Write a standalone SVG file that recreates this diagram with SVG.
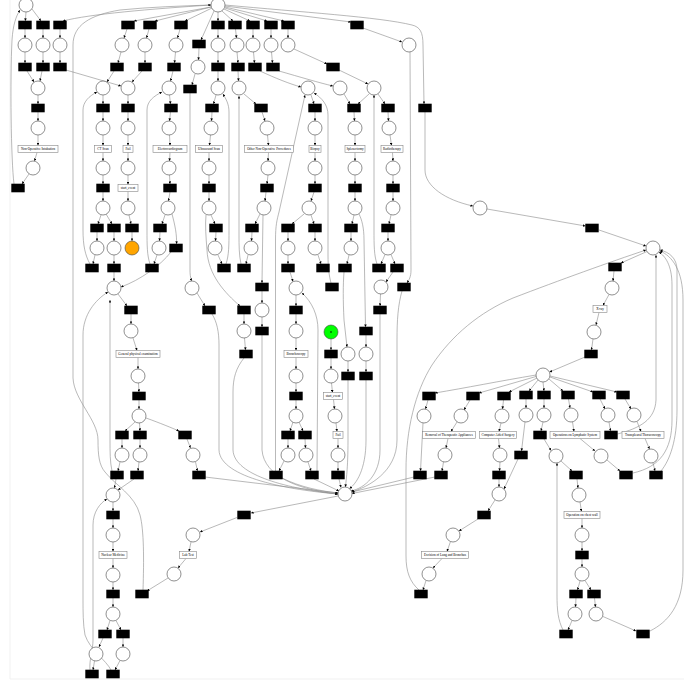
<svg xmlns="http://www.w3.org/2000/svg" width="684" height="683" viewBox="0 0 684 683">
<style>
.p{fill:#fff;stroke:#444;stroke-width:0.6}
.t{fill:#000}
.l{fill:#fff;stroke:#888;stroke-width:0.6}
.e path{fill:none;stroke:#8a8a8a;stroke-width:0.6;marker-end:url(#a)}
text{font-family:"Liberation Serif",serif;font-size:3.3px;text-anchor:middle;dominant-baseline:central;fill:#000}
</style>
<defs>
<marker id="a" viewBox="0 0 10 10" refX="10" refY="5" markerWidth="2.6" markerHeight="2.6" markerUnits="userSpaceOnUse" orient="auto"><path d="M0,0L10,5L0,10z" fill="#000"/></marker>
<circle id="P" class="p" r="7"/>
<rect id="T" class="t" x="-6.7" y="-4.3" width="13.4" height="8.6"/>
</defs>
<rect width="684" height="683" fill="#fff"/>
<path d="M10,0V679H684" fill="none" stroke="#eee" stroke-width="0.8"/>
<g id="connectors" class="e">
<path d="M26,12L25.3,21"/><path d="M32,9L41,21"/><path d="M211,5C150,9 90,14 63,21"/>
<path d="M25,29L25,38"/><path d="M43,29L43,38"/><path d="M60,29L60,38"/>
<path d="M25,52L25,63"/><path d="M43,52L43,63"/><path d="M60,52L60,63"/>
<path d="M27,71L34,82"/><path d="M42,71L40,81"/><path d="M66,70L121,86"/>
<path d="M38,95L38,104"/><path d="M38,112L38,121"/><path d="M38,135L38,145.5"/><path d="M37,152.5L34.5,161"/><path d="M29,174L22,184"/>
<path d="M14,184C11,160 10,80 12,40C13,25 16,16 20,10"/>
<path d="M211,7L134,21"/><path d="M211,7L155,21"/><path d="M212,8L185,21"/><path d="M214,11L201,40"/><path d="M218,12L218,21"/><path d="M222,11L233,21"/><path d="M224,9L250,21"/><path d="M225,8L267,21"/><path d="M225,7L284,21"/><path d="M225,6L351,22"/>
<path d="M225,5C300,12 380,17 412,25C420,27 423,32 423,45L424,104"/>
<path d="M127,29L124,38"/><path d="M149,29L146.5,38"/><path d="M121,52L118,63"/><path d="M145,52L145,63"/>
<path d="M114,71L107,82"/><path d="M142,71L132,82"/>
<path d="M103,95L103,104"/><path d="M103,112L103,121"/><path d="M103,135L103,145.5"/><path d="M103,152.5L103,161"/><path d="M103,175L103,184"/><path d="M103,192L103,201"/>
<path d="M101,215L98,224"/><path d="M106,214L112,224"/>
<path d="M128,95L128,104"/><path d="M128,112L128,121"/><path d="M128,135L128,145.5"/><path d="M128,152.5L128,161"/><path d="M128,175L128,184.5"/><path d="M128,191.5L128,201"/><path d="M129,215L131,224"/>
<path d="M97,232L97,241"/><path d="M114,232L114,241"/><path d="M132,232L132,241"/>
<path d="M95,255L93,264"/><path d="M114,255L114,264"/><path d="M114,272L114,281"/>
<path d="M90,264C85,255 83,245 83,230L83,110C83,102 89,96 97,92"/>
<path d="M180,29L177.5,38"/><path d="M175.5,52L174.5,63"/><path d="M173,71L170.5,81"/><path d="M169.5,95L170.5,104"/><path d="M170.5,112L169.5,121"/><path d="M169.5,135L170,145.5"/><path d="M170,152.5L169.5,161"/><path d="M169.5,175L170,184"/><path d="M170,192L168.5,201"/>
<path d="M165,215L162,224"/><path d="M172,214C175,225 177,235 176.5,244"/><path d="M160,232L159.5,241"/><path d="M157,255L154,264"/>
<path d="M150,264C147,255 147,245 147,230L147,110C147,101 154,96 162,92"/>
<path d="M171,252C160,266 140,280 121,287"/>
<path d="M199,48L198.5,60"/><path d="M195,74L192,85"/><path d="M190,93L190,270C190,276 191,279 191.5,281"/><path d="M197,293L205,306"/>
<path d="M212,314C217,322 219,332 219,345L219,450C220,478 290,490 338,494"/>
<path d="M218,29L218,38"/><path d="M218,52L218,63"/><path d="M218,71L218,81"/><path d="M216,95L213.5,104"/><path d="M212,112L211.5,121"/><path d="M210.5,135L209.5,145.5"/><path d="M209,152.5L209,161"/><path d="M209,175L209,184"/><path d="M209,192L209,201"/>
<path d="M211,215L215,224"/><path d="M216,232L215.5,241"/><path d="M218,255L222,264"/>
<path d="M226,264C229,255 229,245 229,230L229,112C229,104 226,99 223,94"/>
<path d="M206,215C205,225 206,238 207,250C208,275 225,293 240,306"/>
<path d="M244,314L244,324"/><path d="M244.5,338L245.5,350"/>
<path d="M244,358C236,368 233,378 233,392L233,450C234,476 290,489 338,494"/>
<path d="M235.5,29L236.5,38"/><path d="M237,52L238,63"/><path d="M238,71L238.5,81"/><path d="M244,94L256,104"/><path d="M262,112L265,121"/><path d="M267.5,135L268.5,145.5"/><path d="M268.5,152.5L268,161"/><path d="M268,175L267,184"/><path d="M266,192L265,201"/>
<path d="M260,214L255,224"/><path d="M263,215L262,283"/><path d="M252,232L251.5,241"/><path d="M248,255L246,264"/>
<path d="M241,264C239,255 239,245 239,235L239,96"/>
<path d="M262,291L262,303"/><path d="M262,317L262,327"/><path d="M262,335L262,450C264,477 300,490 338,494"/>
<path d="M253,29L253,38"/><path d="M253.5,52L254.5,63"/><path d="M260,71C275,78 290,84 301,87"/><path d="M311,95L314,104"/><path d="M315,112L315,121"/><path d="M315,135L315,145.5"/><path d="M315,152.5L315,161"/><path d="M315,175L315,184"/><path d="M314,192L311,201"/>
<path d="M304,214L292,224"/><path d="M311,215L314,224"/><path d="M288,232L288,241"/><path d="M288,255L288,264"/><path d="M290,272L293,281.5"/><path d="M315,232L315,241"/><path d="M318,255L321,264"/>
<path d="M331,283C329,275 328,268 328,255L328,115C328,105 322,98 314,93"/>
<path d="M275.5,471L275.5,240C275.5,225 277,220 279,212L305,95"/>
<path d="M296,295L296,306"/><path d="M296,314L296,324"/><path d="M296,338L296,350.5"/><path d="M296,357.5L296,369"/><path d="M296,383L296,392"/><path d="M296,400L296,409"/>
<path d="M293,422L290,431"/><path d="M299,422L303,431"/><path d="M288,439L288,448"/><path d="M305,439L305.5,448"/><path d="M284,461L279,471"/><path d="M308,462L311,471"/>
<path d="M317,471L318,330C318,315 312,302 302,293"/>
<path d="M282,478C300,487 320,491 338,493"/><path d="M314,479L339,491"/>
<path d="M331,339L331,350"/><path d="M331,358L331,369"/><path d="M331.5,383L332.5,392.5"/><path d="M333.5,399.5L334.5,409"/><path d="M336,423L337,431.5"/><path d="M338,438.5L338,448"/><path d="M338,462L338,471"/><path d="M339,479L341,487.5"/>
<path d="M271,29L271,38"/><path d="M271.5,52L272.5,63"/><path d="M279,71C300,77 320,83 333,86"/><path d="M288,29L288,38"/><path d="M294,49L327,64"/><path d="M339,70L368,84"/>
<path d="M344,94L350,104"/><path d="M369,94L358,104"/><path d="M378,94L385,104"/>
<path d="M354,112L354.5,121"/><path d="M355,135L355,145.5"/><path d="M355,152.5L355,161"/><path d="M355,175L355,184"/><path d="M355,192L355,201"/>
<path d="M354,215L352,224"/><path d="M359,214C362,220 364,228 364,240L365.5,327"/><path d="M351,232L351,241"/><path d="M349,255L347,264"/>
<path d="M344,272C343,285 343,300 344,320L347,347"/>
<path d="M388,112L388.5,121"/><path d="M390,135L391.5,145.5"/><path d="M392.5,152.5L393,161"/><path d="M393,175L393,184"/><path d="M393,192L393,201"/>
<path d="M391,215L389,224"/><path d="M388,232L388,241"/><path d="M385,254.5L381,264"/><path d="M391,254.5L395,264"/>
<path d="M377,264C374,255 374,245 374,230L374,95"/>
<path d="M393,272L386,282"/><path d="M380.5,294L380,306"/><path d="M380,314L380,450C380,475 365,488 351,491"/>
<path d="M366,335L366,347"/><path d="M366,361L366,372"/><path d="M348,361L348,372"/>
<path d="M348,380L348,440C348,470 346,480 345.5,487"/><path d="M366,380L366,440C366,470 356,484 349.5,488.5"/>
<path d="M410,52L411,270C411,277 409,280 407,283"/>
<path d="M402,291C398,305 397,320 397,340L397,440C397,472 368,487 351.5,492"/>
<path d="M363,28L402,42"/>
<path d="M425,112L425,170C425,186 445,200 473,206"/><path d="M487,209L585.5,226"/><path d="M599,230L646,246"/>
<path d="M647,251.5L621,263"/><path d="M614,271L613,281"/><path d="M609,294.5L603,305.5"/><path d="M599,312.5L596,325"/><path d="M593,339L591.5,350"/><path d="M585,357L549.5,372"/>
<path d="M536,375C500,381 465,388 435,393"/><path d="M536,376.5L479,393"/><path d="M537,378L509,392"/><path d="M538,380L529,391"/><path d="M543,382L544,391"/><path d="M549,379L563,391"/><path d="M550,377L593,392"/><path d="M550,376L617,392"/>
<path d="M428,400L425.5,409"/><path d="M423,423L420.5,471"/><path d="M414,477L352,492"/>
<path d="M470,400L464,410"/><path d="M457,422L451,431.5"/><path d="M448,438.5L446,448"/><path d="M443.5,462L442,471"/><path d="M435,477L352,493.5"/>
<path d="M503.5,400L502.5,409"/><path d="M501,423L499,431.5"/><path d="M498.5,438.5L499.5,448"/><path d="M500,462L499.5,471"/><path d="M499,479L499,487"/>
<path d="M526,399L526,408"/><path d="M525,422L521.5,451"/><path d="M518,459L504,489"/>
<path d="M495,500L488,511"/><path d="M478,519L459,531"/><path d="M450.5,541.5L447,551.5"/><path d="M442,558.5L433,568"/><path d="M426,580.5L423,590"/>
<path d="M419,590C410,582 406,572 406,556L406,470C406,430 415,392 432,365C452,335 480,312 513,298C560,280 610,262 646,250"/>
<path d="M544,399L544,408"/><path d="M543,422L541,431"/><path d="M544,439L551,450.5"/><path d="M561,461L572,471"/><path d="M577,479L578,488"/><path d="M580,502L581.5,511.5"/><path d="M582,518.5L582,528"/><path d="M582,542L582,551"/><path d="M582,559L582,567"/>
<path d="M580,581L577.5,590"/><path d="M585,580.5L591,590"/><path d="M576,598L575.5,607"/><path d="M594.5,598L595.5,607"/><path d="M572,620.5L568,630"/><path d="M603,616.5L636,631"/>
<path d="M563,630C558,620 557,610 557,595L557,463"/>
<path d="M650,631C668,622 683,605 683,570L683,300C683,270 672,256 660,251"/>
<path d="M568.5,399L570,408"/><path d="M572.5,422L574,431.5"/><path d="M580,438.5L595,451"/><path d="M607,460L620,471"/>
<path d="M633,473C660,467 672,450 672,420L672,285C672,265 665,256 659,252"/>
<path d="M600,399L605,409"/><path d="M609,422L610.5,431"/><path d="M617.5,434C640,428 655,420 656,400L656,255"/>
<path d="M625,399L631,409"/><path d="M637,421.5L641,431.5"/><path d="M645,438.5L649.5,449"/><path d="M653,463L655,471"/>
<path d="M661,471C670,460 677,440 677,410L677,270C677,258 669,252 660,250"/>
<path d="M118,294L127,306"/><path d="M131,314L131,324"/><path d="M133,338L137,350.5"/><path d="M138,357.5L138,369"/><path d="M138.5,383L139,392"/><path d="M139,400L139,409"/>
<path d="M135,422L125,431"/><path d="M139.5,423L140,431"/><path d="M146,418C160,423 172,428 179,431"/>
<path d="M122,439L122,448"/><path d="M140,439L140,448"/><path d="M120,462L118,471"/><path d="M139,462L138,471"/><path d="M134,479L118,490"/><path d="M116,479L114.5,488"/>
<path d="M112,471C110,462 110,452 110,440L110,300"/>
<path d="M187,439L190.5,448"/><path d="M195.5,462L197.5,471"/><path d="M205,477L338,493"/>
<path d="M113,502L113,511"/><path d="M113,519L113,528"/><path d="M113,542L113,551.5"/><path d="M113,558.5L113,568"/><path d="M113,582L113,590"/><path d="M113,598L113,607"/>
<path d="M110,620.5L107,630"/><path d="M116,620.5L121,630"/><path d="M103,638L99,647"/><path d="M123,638L123,647"/><path d="M94.5,661L93,670"/><path d="M120,660.5L115,670"/>
<path d="M90,670C89,660 93,650 93,640L93,525C93,512 100,503 107,499"/>
<path d="M111,670C106,660 90,650 85,635C83,625 83,610 83,600L83,335C83,315 95,300 108,292"/>
<path d="M143,590C144,560 144,530 140,515C135,495 115,485 105,472C99,465 98,455 98,440C98,420 74,400 73,378L73,45C73,25 90,15 120,10C150,7 180,6 211,5"/>
<path d="M168,578L147,591"/>
<path d="M338,496L251,513"/><path d="M237,517.5L200,532"/><path d="M191,542L189,551.5"/><path d="M186,558.5L178,568"/>
</g>
<g id="places">
<g id="p01"><use href="#P" x="26" y="5"/></g><g id="p02"><use href="#P" x="218" y="5"/></g>
<g id="p03"><use href="#P" x="25" y="45"/></g><g id="p04"><use href="#P" x="43" y="45"/></g><g id="p05"><use href="#P" x="60" y="45"/></g><g id="p06"><use href="#P" x="122" y="45"/></g><g id="p07"><use href="#P" x="145" y="45"/></g><g id="p08"><use href="#P" x="176" y="45"/></g><g id="p09"><use href="#P" x="218" y="45"/></g><g id="p10"><use href="#P" x="237" y="45"/></g><g id="p11"><use href="#P" x="253" y="45"/></g><g id="p12"><use href="#P" x="271" y="45"/></g><g id="p13"><use href="#P" x="288" y="45"/></g><g id="p14"><use href="#P" x="409" y="45"/></g>
<g id="p15"><use href="#P" x="198" y="67"/></g>
<g id="p16"><use href="#P" x="38" y="88"/></g><g id="p17"><use href="#P" x="103" y="88"/></g><g id="p18"><use href="#P" x="128" y="88"/></g><g id="p19"><use href="#P" x="169" y="88"/></g><g id="p20"><use href="#P" x="218" y="88"/></g><g id="p21"><use href="#P" x="239" y="88"/></g><g id="p22"><use href="#P" x="308" y="88"/></g><g id="p23"><use href="#P" x="340" y="88"/></g><g id="p24"><use href="#P" x="374" y="88"/></g>
<g id="p25"><use href="#P" x="38" y="128"/></g><g id="p26"><use href="#P" x="103" y="128"/></g><g id="p27"><use href="#P" x="128" y="128"/></g><g id="p28"><use href="#P" x="169" y="128"/></g><g id="p29"><use href="#P" x="211" y="128"/></g><g id="p30"><use href="#P" x="267" y="128"/></g><g id="p31"><use href="#P" x="315" y="128"/></g><g id="p32"><use href="#P" x="355" y="128"/></g><g id="p33"><use href="#P" x="389" y="128"/></g>
<g id="p34"><use href="#P" x="33" y="168"/></g><g id="p35"><use href="#P" x="103" y="168"/></g><g id="p36"><use href="#P" x="128" y="168"/></g><g id="p37"><use href="#P" x="169" y="168"/></g><g id="p38"><use href="#P" x="209" y="168"/></g><g id="p39"><use href="#P" x="268" y="168"/></g><g id="p40"><use href="#P" x="315" y="168"/></g><g id="p41"><use href="#P" x="355" y="168"/></g><g id="p42"><use href="#P" x="393" y="168"/></g>
<g id="p43"><use href="#P" x="103" y="208"/></g><g id="p44"><use href="#P" x="128" y="208"/></g><g id="p45"><use href="#P" x="168" y="208"/></g><g id="p46"><use href="#P" x="209" y="208"/></g><g id="p47"><use href="#P" x="264" y="208"/></g><g id="p48"><use href="#P" x="309" y="208"/></g><g id="p49"><use href="#P" x="355" y="208"/></g><g id="p50"><use href="#P" x="393" y="208"/></g><g id="p51"><use href="#P" x="480" y="208"/></g>
<g id="p52"><use href="#P" x="97" y="248"/></g><g id="p53"><use href="#P" x="114" y="248"/></g><g id="p54"><circle cx="132" cy="248" r="7" fill="#FFA500" stroke="#444" stroke-width="0.6"/></g><g id="p55"><use href="#P" x="159" y="248"/></g><g id="p56"><use href="#P" x="215" y="248"/></g><g id="p57"><use href="#P" x="251" y="248"/></g><g id="p58"><use href="#P" x="288" y="248"/></g><g id="p59"><use href="#P" x="315" y="248"/></g><g id="p60"><use href="#P" x="351" y="248"/></g><g id="p61"><use href="#P" x="388" y="248"/></g><g id="p62"><use href="#P" x="653" y="248"/></g>
<g id="p63"><use href="#P" x="114" y="288"/></g><g id="p64"><use href="#P" x="192" y="288"/></g><g id="p65"><use href="#P" x="296" y="288"/></g><g id="p66"><use href="#P" x="381" y="287"/></g><g id="p67"><use href="#P" x="612" y="288"/></g>
<g id="p68"><use href="#P" x="262" y="310"/></g>
<g id="p69"><use href="#P" x="131" y="331"/></g><g id="p70"><use href="#P" x="244" y="331"/></g><g id="p71"><use href="#P" x="296" y="331"/></g><g id="p72"><circle cx="331" cy="332" r="7" fill="#00FF00" stroke="#444" stroke-width="0.6"/><circle cx="331" cy="332" r="0.8" fill="#000"/></g><g id="p73"><use href="#P" x="594" y="332"/></g>
<g id="p74"><use href="#P" x="348" y="354"/></g><g id="p75"><use href="#P" x="366" y="354"/></g>
<g id="p76"><use href="#P" x="138" y="376"/></g><g id="p77"><use href="#P" x="296" y="376"/></g><g id="p78"><use href="#P" x="331" y="376"/></g><g id="p79"><use href="#P" x="543" y="375"/></g>
<g id="p80"><use href="#P" x="139" y="416"/></g><g id="p81"><use href="#P" x="296" y="416"/></g><g id="p82"><use href="#P" x="335" y="416"/></g><g id="p83"><use href="#P" x="424" y="416"/></g><g id="p84"><use href="#P" x="461" y="416"/></g><g id="p85"><use href="#P" x="502" y="416"/></g><g id="p86"><use href="#P" x="526" y="415"/></g><g id="p87"><use href="#P" x="544" y="415"/></g><g id="p88"><use href="#P" x="571" y="415"/></g><g id="p89"><use href="#P" x="608" y="415"/></g><g id="p90"><use href="#P" x="634" y="415"/></g>
<g id="p91"><use href="#P" x="122" y="455"/></g><g id="p92"><use href="#P" x="140" y="455"/></g><g id="p93"><use href="#P" x="193" y="455"/></g><g id="p94"><use href="#P" x="288" y="455"/></g><g id="p95"><use href="#P" x="306" y="455"/></g><g id="p96"><use href="#P" x="338" y="455"/></g><g id="p97"><use href="#P" x="445" y="455"/></g><g id="p98"><use href="#P" x="500" y="455"/></g><g id="p99"><use href="#P" x="556" y="456"/></g><g id="p100"><use href="#P" x="601" y="456"/></g><g id="p101"><use href="#P" x="651" y="456"/></g>
<g id="p102"><use href="#P" x="345" y="494"/></g><g id="p103"><use href="#P" x="113" y="495"/></g><g id="p104"><use href="#P" x="499" y="494"/></g><g id="p105"><use href="#P" x="579" y="495"/></g>
<g id="p106"><use href="#P" x="113" y="535"/></g><g id="p107"><use href="#P" x="193" y="535"/></g><g id="p108"><use href="#P" x="453" y="535"/></g><g id="p109"><use href="#P" x="582" y="535"/></g>
<g id="p110"><use href="#P" x="113" y="575"/></g><g id="p111"><use href="#P" x="174" y="574"/></g><g id="p112"><use href="#P" x="429" y="574"/></g><g id="p113"><use href="#P" x="582" y="574"/></g>
<g id="p114"><use href="#P" x="113" y="614"/></g><g id="p115"><use href="#P" x="575" y="614"/></g><g id="p116"><use href="#P" x="596" y="614"/></g>
<g id="p117"><use href="#P" x="96" y="654"/></g><g id="p118"><use href="#P" x="123" y="654"/></g>
</g>
<g id="transitions">
<g id="t01"><use href="#T" x="25" y="25"/></g><g id="t02"><use href="#T" x="43" y="25"/></g><g id="t03"><use href="#T" x="60" y="25"/></g><g id="t04"><use href="#T" x="128" y="25"/></g><g id="t05"><use href="#T" x="150" y="25"/></g><g id="t06"><use href="#T" x="181" y="25"/></g><g id="t07"><use href="#T" x="218" y="25"/></g><g id="t08"><use href="#T" x="235" y="25"/></g><g id="t09"><use href="#T" x="253" y="25"/></g><g id="t10"><use href="#T" x="271" y="25"/></g><g id="t11"><use href="#T" x="288" y="25"/></g><g id="t12"><use href="#T" x="357" y="25"/></g>
<g id="t13"><use href="#T" x="199" y="44"/></g>
<g id="t14"><use href="#T" x="25" y="67"/></g><g id="t15"><use href="#T" x="43" y="67"/></g><g id="t16"><use href="#T" x="60" y="67"/></g><g id="t17"><use href="#T" x="117" y="67"/></g><g id="t18"><use href="#T" x="145" y="67"/></g><g id="t19"><use href="#T" x="174" y="67"/></g><g id="t20"><use href="#T" x="218" y="67"/></g><g id="t21"><use href="#T" x="238" y="67"/></g><g id="t22"><use href="#T" x="255" y="67"/></g><g id="t23"><use href="#T" x="273" y="67"/></g><g id="t24"><use href="#T" x="333" y="67"/></g>
<g id="t25"><use href="#T" x="190" y="89"/></g>
<g id="t26"><use href="#T" x="38" y="108"/></g><g id="t27"><use href="#T" x="103" y="108"/></g><g id="t28"><use href="#T" x="128" y="108"/></g><g id="t29"><use href="#T" x="171" y="108"/></g><g id="t30"><use href="#T" x="212" y="108"/></g><g id="t31"><use href="#T" x="261" y="108"/></g><g id="t32"><use href="#T" x="315" y="108"/></g><g id="t33"><use href="#T" x="354" y="108"/></g><g id="t34"><use href="#T" x="388" y="108"/></g><g id="t35"><use href="#T" x="425" y="108"/></g>
<g id="t36"><use href="#T" x="18" y="188"/></g><g id="t37"><use href="#T" x="103" y="188"/></g><g id="t38"><use href="#T" x="170" y="188"/></g><g id="t39"><use href="#T" x="209" y="188"/></g><g id="t40"><use href="#T" x="267" y="188"/></g><g id="t41"><use href="#T" x="315" y="188"/></g><g id="t42"><use href="#T" x="355" y="188"/></g><g id="t43"><use href="#T" x="393" y="188"/></g>
<g id="t44"><use href="#T" x="97" y="228"/></g><g id="t45"><use href="#T" x="114" y="228"/></g><g id="t46"><use href="#T" x="132" y="228"/></g><g id="t47"><use href="#T" x="160" y="228"/></g><g id="t48"><use href="#T" x="216" y="228"/></g><g id="t49"><use href="#T" x="252" y="228"/></g><g id="t50"><use href="#T" x="288" y="228"/></g><g id="t51"><use href="#T" x="315" y="228"/></g><g id="t52"><use href="#T" x="351" y="228"/></g><g id="t53"><use href="#T" x="388" y="228"/></g><g id="t54"><use href="#T" x="592" y="228"/></g>
<g id="t55"><use href="#T" x="176" y="248"/></g>
<g id="t56"><use href="#T" x="92" y="268"/></g><g id="t57"><use href="#T" x="114" y="268"/></g><g id="t58"><use href="#T" x="152" y="268"/></g><g id="t59"><use href="#T" x="224" y="268"/></g><g id="t60"><use href="#T" x="244" y="268"/></g><g id="t61"><use href="#T" x="288" y="268"/></g><g id="t62"><use href="#T" x="323" y="268"/></g><g id="t63"><use href="#T" x="345" y="268"/></g><g id="t64"><use href="#T" x="379" y="268"/></g><g id="t65"><use href="#T" x="397" y="268"/></g><g id="t66"><use href="#T" x="615" y="267"/></g>
<g id="t67"><use href="#T" x="262" y="287"/></g><g id="t68"><use href="#T" x="332" y="287"/></g><g id="t69"><use href="#T" x="404" y="287"/></g>
<g id="t70"><use href="#T" x="131" y="310"/></g><g id="t71"><use href="#T" x="209" y="310"/></g><g id="t72"><use href="#T" x="244" y="310"/></g><g id="t73"><use href="#T" x="296" y="310"/></g><g id="t74"><use href="#T" x="380" y="310"/></g>
<g id="t75"><use href="#T" x="262" y="331"/></g><g id="t76"><use href="#T" x="366" y="331"/></g>
<g id="t77"><use href="#T" x="246" y="354"/></g><g id="t78"><use href="#T" x="331" y="354"/></g><g id="t79"><use href="#T" x="591" y="354"/></g>
<g id="t80"><use href="#T" x="348" y="376"/></g><g id="t81"><use href="#T" x="366" y="376"/></g>
<g id="t82"><use href="#T" x="139" y="396"/></g><g id="t83"><use href="#T" x="296" y="396"/></g><g id="t84"><use href="#T" x="429" y="396"/></g><g id="t85"><use href="#T" x="473" y="396"/></g><g id="t86"><use href="#T" x="504" y="396"/></g><g id="t87"><use href="#T" x="526" y="395"/></g><g id="t88"><use href="#T" x="544" y="395"/></g><g id="t89"><use href="#T" x="568" y="395"/></g><g id="t90"><use href="#T" x="599" y="395"/></g><g id="t91"><use href="#T" x="623" y="395"/></g>
<g id="t92"><use href="#T" x="122" y="435"/></g><g id="t93"><use href="#T" x="140" y="435"/></g><g id="t94"><use href="#T" x="185" y="435"/></g><g id="t95"><use href="#T" x="288" y="435"/></g><g id="t96"><use href="#T" x="305" y="435"/></g><g id="t97"><use href="#T" x="540" y="435"/></g><g id="t98"><use href="#T" x="611" y="435"/></g>
<g id="t99"><use href="#T" x="521" y="455"/></g>
<g id="t100"><use href="#T" x="117" y="475"/></g><g id="t101"><use href="#T" x="137" y="475"/></g><g id="t102"><use href="#T" x="199" y="475"/></g><g id="t103"><use href="#T" x="276" y="475"/></g><g id="t104"><use href="#T" x="312" y="475"/></g><g id="t105"><use href="#T" x="338" y="475"/></g><g id="t106"><use href="#T" x="420" y="475"/></g><g id="t107"><use href="#T" x="441" y="475"/></g><g id="t108"><use href="#T" x="499" y="475"/></g><g id="t109"><use href="#T" x="576" y="475"/></g><g id="t110"><use href="#T" x="626" y="475"/></g><g id="t111"><use href="#T" x="656" y="475"/></g>
<g id="t112"><use href="#T" x="113" y="515"/></g><g id="t113"><use href="#T" x="244" y="515"/></g><g id="t114"><use href="#T" x="484" y="515"/></g>
<g id="t115"><use href="#T" x="582" y="555"/></g>
<g id="t116"><use href="#T" x="113" y="594"/></g><g id="t117"><use href="#T" x="142" y="594"/></g><g id="t118"><use href="#T" x="421" y="594"/></g><g id="t119"><use href="#T" x="576" y="594"/></g><g id="t120"><use href="#T" x="594" y="594"/></g>
<g id="t121"><use href="#T" x="105" y="634"/></g><g id="t122"><use href="#T" x="123" y="634"/></g><g id="t123"><use href="#T" x="566" y="634"/></g><g id="t124"><use href="#T" x="643" y="634"/></g>
<g id="t125"><use href="#T" x="92" y="674"/></g><g id="t126"><use href="#T" x="113" y="674"/></g>
</g>
<g id="labels">
<g id="l01"><rect class="l" x="18" y="145.5" width="40" height="7"/><text x="38" y="149">Non-Operative Intubation</text></g>
<g id="l02"><rect class="l" x="94.5" y="145.5" width="17" height="7"/><text x="103" y="149">CT Scan</text></g>
<g id="l03"><rect class="l" x="123" y="145.5" width="10" height="7"/><text x="128" y="149">Fail</text></g>
<g id="l04"><rect class="l" x="153" y="145.5" width="34" height="7"/><text x="170" y="149">Electrocardiogram</text></g>
<g id="l05"><rect class="l" x="195.5" y="145.5" width="27" height="7"/><text x="209" y="149">Ultrasound Scan</text></g>
<g id="l06"><rect class="l" x="244.5" y="145.5" width="49" height="7"/><text x="269" y="149">Other Non-Operative Procedures</text></g>
<g id="l07"><rect class="l" x="309" y="145.5" width="12" height="7"/><text x="315" y="149">Biopsy</text></g>
<g id="l08"><rect class="l" x="345" y="145.5" width="20" height="7"/><text x="355" y="149">Splenectomy</text></g>
<g id="l09"><rect class="l" x="381" y="145.5" width="22" height="7"/><text x="392" y="149">Radiotherapy</text></g>
<g id="l10"><rect class="l" x="118" y="184.5" width="20" height="7"/><text x="128" y="188">start_event</text></g>
<g id="l11"><rect class="l" x="116" y="350.5" width="44" height="7"/><text x="138" y="354">General physical examination</text></g>
<g id="l12"><rect class="l" x="284" y="350.5" width="24" height="7"/><text x="296" y="354">Bronchoscopy</text></g>
<g id="l13"><rect class="l" x="323.5" y="392.5" width="19" height="7"/><text x="333" y="396">start_event</text></g>
<g id="l14"><rect class="l" x="333" y="431.5" width="10" height="7"/><text x="338" y="435">Fail</text></g>
<g id="l15"><rect class="l" x="593" y="305.5" width="14" height="7"/><text x="600" y="309">X-ray</text></g>
<g id="l16"><rect class="l" x="422.5" y="431.5" width="53" height="7"/><text x="449" y="435">Removal of Therapeutic Appliances</text></g>
<g id="l17"><rect class="l" x="479.5" y="431.5" width="37" height="7"/><text x="498" y="435">Computer Aided Surgery</text></g>
<g id="l18"><rect class="l" x="550" y="431.5" width="50" height="7"/><text x="575" y="435">Operations on Lymphatic System</text></g>
<g id="l19"><rect class="l" x="622" y="431.5" width="42" height="7"/><text x="643" y="435">Transpleural Thoracoscopy</text></g>
<g id="l20"><rect class="l" x="99" y="551.5" width="28" height="7"/><text x="113" y="555">Nuclear Medicine</text></g>
<g id="l21"><rect class="l" x="179.5" y="551.5" width="17" height="7"/><text x="188" y="555">Lab Test</text></g>
<g id="l22"><rect class="l" x="421.5" y="551.5" width="47" height="7"/><text x="445" y="555">Excision of Lung and Bronchus</text></g>
<g id="l23"><rect class="l" x="564" y="511.5" width="36" height="7"/><text x="582" y="515">Operation on chest wall</text></g>
</g>
</svg>
